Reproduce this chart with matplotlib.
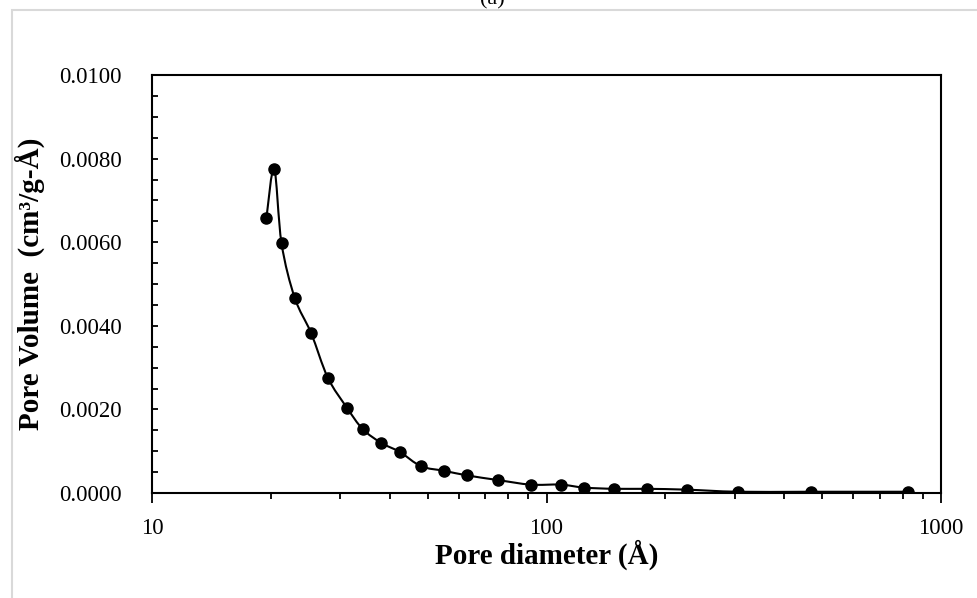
import numpy as np
import matplotlib.pyplot as plt
from matplotlib.path import Path
from matplotlib.patches import PathPatch, Rectangle
from matplotlib.ticker import FixedLocator, MultipleLocator, FormatStrFormatter

# pore size distribution
diameter = [19.5, 20.4, 21.3, 23.0, 25.3, 27.9, 31.2, 34.2, 38.1, 42.5, 48.1,
            55.1, 63.0, 75.3, 91.2, 108.6, 124.5, 148.6, 179.6, 226.7, 305.0,
            467.0, 824.0]
volume = [0.00658, 0.00776, 0.00597, 0.00467, 0.00383, 0.00276, 0.00204,
          0.00153, 0.00120, 0.00098, 0.00064, 0.00053, 0.00042, 0.00031,
          0.00020, 0.00020, 0.00013, 0.00010, 0.00010, 0.00008, 0.00003,
          0.00003, 0.00003]
x_ticks = [10, 100, 1000]
x_tick_labels = ['10', '100', '1000']

plt.rcParams['font.family'] = ['Liberation Serif', 'DejaVu Serif']
plt.rcParams['font.size'] = 16


def smooth_path(xs, ys):
    # Excel-like smoothed line: Catmull-Rom as cubic Bezier in (log x, y)
    u = np.log10(np.asarray(xs, dtype=float))
    v = np.asarray(ys, dtype=float)
    pts = np.column_stack([u, v])
    n = len(pts)
    verts = [pts[0]]
    codes = [Path.MOVETO]
    for i in range(n - 1):
        p0 = pts[i - 1] if i > 0 else pts[i]
        p1 = pts[i]
        p2 = pts[i + 1]
        p3 = pts[i + 2] if i + 2 < n else pts[i + 1]
        c1 = p1 + (p2 - p0) / 6.0
        c2 = p2 - (p3 - p1) / 6.0
        verts += [c1, c2, p2]
        codes += [Path.CURVE4] * 3
    verts = np.array(verts)
    verts[:, 0] = 10 ** verts[:, 0]
    return Path(verts, codes)


fig = plt.figure(figsize=(9.77, 5.98), dpi=100)
ax = fig.add_axes([152 / 977, 1 - 493 / 598, 789 / 977, 418 / 598])

ax.set_xscale('log')
ax.add_patch(PathPatch(smooth_path(diameter, volume), facecolor='none',
                       edgecolor='black', lw=1.5, zorder=2))
ax.plot(diameter, volume, ls='none', marker='o', ms=8, color='black', zorder=3)

ax.set_xlim(10, 1000)
ax.set_ylim(0, 0.01)
ax.xaxis.set_major_locator(FixedLocator(x_ticks))
ax.set_xticklabels(x_tick_labels)
ax.yaxis.set_major_locator(MultipleLocator(0.002))
ax.yaxis.set_minor_locator(MultipleLocator(0.0005))
ax.yaxis.set_major_formatter(FormatStrFormatter('%.4f'))

ax.tick_params(axis='x', which='major', direction='out', length=7, width=1.3,
               pad=11, labelsize=16.5)
ax.tick_params(axis='x', which='minor', direction='out', length=4, width=1.3,
               labelbottom=False)
ax.tick_params(axis='y', which='both', direction='in', length=4.5, width=1.3,
               pad=22, labelsize=16.5)
for side in ['left', 'bottom', 'top', 'right']:
    ax.spines[side].set_linewidth(1.5)

ax.set_xlabel('Pore diameter (Å)', fontsize=21, fontweight='bold')
ax.set_ylabel('Pore Volume  (cm³/g-Å)', fontsize=21, fontweight='bold')
ax.xaxis.set_label_coords(0.5, -0.112)
ax.yaxis.set_label_coords(-0.1356, 0.5)

# chart-area border and the clipped panel title above it
fig.patches.append(Rectangle((11.5 / 977, -0.1), 2, 1.1 - 10 / 598,
                             transform=fig.transFigure, fill=False,
                             edgecolor='#d9d9d9', lw=1.5))
fig.text(492 / 977, 1 - 4 / 598, '(a)', ha='center', va='baseline', fontsize=16)

fig.savefig('out.png', dpi=100)
